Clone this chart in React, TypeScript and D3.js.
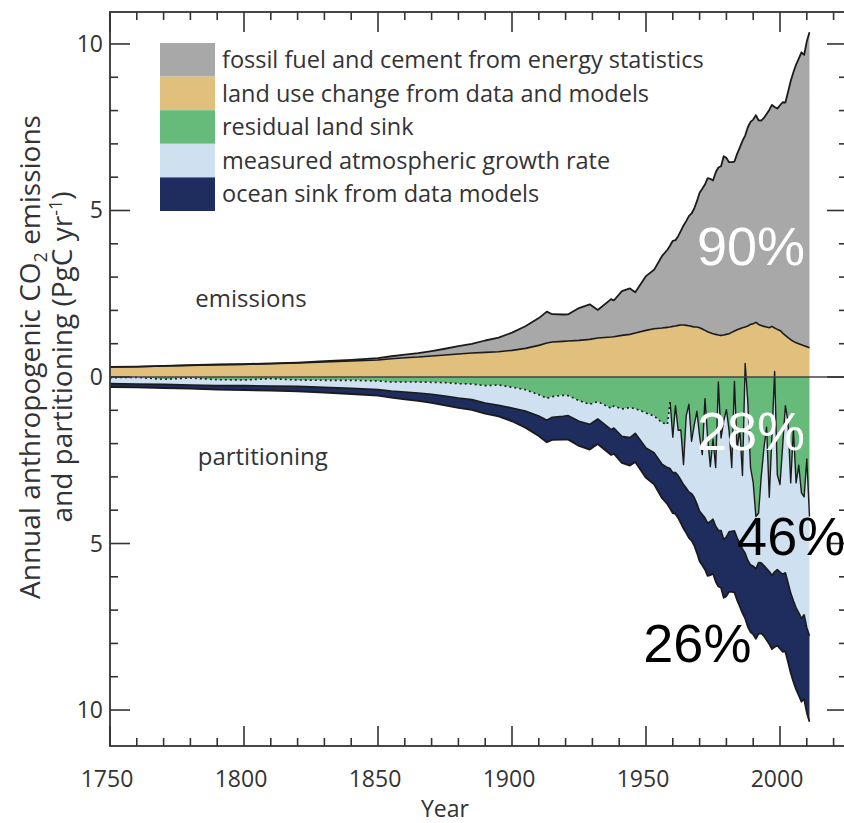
import React from "react";
import * as d3 from "d3";

// sampled years: decadal to 1850, sparse to 1958, then annual 1959-2011
const years = [
  1750, 1760, 1770, 1780, 1790, 1800, 1810, 1820, 1830, 1840, 1850, 1855, 1860,
  1865, 1870, 1875, 1880, 1885, 1890, 1895, 1900, 1905, 1910, 1913, 1915, 1919,
  1921, 1925, 1929, 1932, 1937, 1938, 1941, 1944, 1946, 1950, 1953, 1956, 1958,
  1959, 1960, 1961, 1962, 1963, 1964, 1965, 1966, 1967, 1968, 1969, 1970, 1971,
  1972, 1973, 1974, 1975, 1976, 1977, 1978, 1979, 1980, 1981, 1982, 1983, 1984,
  1985, 1986, 1987, 1988, 1989, 1990, 1991, 1992, 1993, 1994, 1995, 1996, 1997,
  1998, 1999, 2000, 2001, 2002, 2003, 2004, 2005, 2006, 2007, 2008, 2009, 2010,
  2011,
];

// PgC per year
const fossil = [
  0.003, 0.003, 0.003, 0.004, 0.006, 0.008, 0.01, 0.014, 0.024, 0.033, 0.054,
  0.073, 0.091, 0.115, 0.147, 0.188, 0.236, 0.272, 0.356, 0.42, 0.534, 0.663,
  0.819, 0.943, 0.836, 0.807, 0.803, 0.97, 1.053, 0.844, 1.137, 1.088, 1.331,
  1.38, 1.225, 1.63, 1.768, 2.165, 2.33,
  2.45, 2.57, 2.58, 2.68, 2.83, 2.99, 3.13, 3.29, 3.39, 3.56, 3.78, 4.05, 4.21,
  4.38, 4.61, 4.62, 4.6, 4.86, 5.03, 5.08, 5.37, 5.3, 5.15, 5.11, 5.09, 5.28,
  5.44, 5.61, 5.75, 5.97, 6.08, 6.13, 6.22, 6.13, 6.15, 6.26, 6.4, 6.54, 6.65,
  6.64, 6.63, 6.76, 6.93, 6.99, 7.38, 7.77, 8.08, 8.35, 8.56, 8.78, 8.73, 9.17,
  9.47,
];

const landUse = [
  0.3, 0.31, 0.33, 0.35, 0.37, 0.38, 0.4, 0.42, 0.45, 0.48, 0.51, 0.55, 0.58,
  0.6, 0.63, 0.66, 0.69, 0.72, 0.74, 0.76, 0.8, 0.86, 0.95, 1.02, 1.05, 1.07,
  1.08, 1.1, 1.13, 1.17, 1.2, 1.21, 1.25, 1.28, 1.32, 1.4, 1.45, 1.47, 1.49,
  1.5, 1.52, 1.53, 1.55, 1.56, 1.56, 1.55, 1.54, 1.52, 1.5, 1.5, 1.48, 1.44,
  1.4, 1.36, 1.33, 1.3, 1.28, 1.26, 1.25, 1.26, 1.28, 1.3, 1.34, 1.38, 1.42,
  1.45, 1.48, 1.5, 1.53, 1.58, 1.6, 1.64, 1.58, 1.55, 1.52, 1.5, 1.48, 1.52,
  1.47, 1.43, 1.4, 1.32, 1.25, 1.18, 1.12, 1.07, 1.03, 1.0, 0.97, 0.94, 0.91,
  0.88,
];

// sinks, as positive magnitudes (drawn below zero)
const landSink = [
  0.02, 0.01, 0.07, 0.03, 0.08, 0.09, 0.05, 0.09, 0.1, 0.1, 0.12, 0.15, 0.15,
  0.15, 0.16, 0.17, 0.2, 0.21, 0.26, 0.24, 0.31, 0.38, 0.53, 0.64, 0.59, 0.55,
  0.56, 0.71, 0.82, 0.74, 0.94, 0.87, 0.96, 0.92, 0.95, 1.08, 1.17, 1.37, 1.42,
  0.75, 1.81, 0.86, 1.6, 1.59, 2.63, 1.17, 0.82, 1.93, 1.44, 1.03, 1.78, 2.33,
  0.65, 1.82, 2.69, 1.87, 2.72, 0.15, 1.83, 1.32, 0.98, 1.6, 2.72, 0.13, 2.18,
  1.56, 2.96, -0.41, 0.76, 2.71, 3.18, 4.19, 4.09, 2.99, 2.14, 1.51, 3.61, 1.77,
  -0.17, 2.94, 3.23, 2.06, 0.86, 1.35, 3.18, 1.57, 3.18, 2.65, 3.48, 3.6, 2.46,
  4.19,
];

const atmosphere = [
  0.18, 0.2, 0.15, 0.21, 0.18, 0.17, 0.22, 0.19, 0.21, 0.24, 0.26, 0.27, 0.3,
  0.33, 0.36, 0.4, 0.43, 0.47, 0.52, 0.61, 0.62, 0.64, 0.64, 0.66, 0.62, 0.63,
  0.6, 0.62, 0.6, 0.52, 0.64, 0.66, 0.82, 0.9, 0.74, 1.05, 1.1, 1.25, 1.3,
  2.0, 1.06, 2.01, 1.36, 1.5, 0.6, 2.16, 2.63, 1.57, 2.18, 2.78, 2.25, 1.8,
  3.58, 2.57, 1.65, 2.4, 1.76, 4.45, 2.78, 3.56, 3.82, 3.05, 1.91, 4.49, 2.65,
  3.43, 2.2, 5.7, 4.75, 2.93, 2.5, 1.57, 1.48, 2.59, 3.52, 4.24, 2.23, 4.18,
  6.02, 2.84, 2.63, 3.86, 5.02, 4.83, 3.31, 5.15, 3.75, 4.43, 3.77, 3.54, 5.07,
  3.58,
];

const ocean = [
  0.1, 0.1, 0.11, 0.11, 0.12, 0.13, 0.14, 0.15, 0.16, 0.17, 0.18, 0.2, 0.22,
  0.24, 0.26, 0.28, 0.3, 0.31, 0.32, 0.33, 0.4, 0.5, 0.6, 0.66, 0.68, 0.7, 0.72,
  0.74, 0.76, 0.75, 0.76, 0.77, 0.8, 0.84, 0.86, 0.9, 0.95, 1.02, 1.1,
  1.2, 1.22, 1.24, 1.27, 1.3, 1.32, 1.35, 1.38, 1.41, 1.44, 1.47, 1.5, 1.52,
  1.55, 1.58, 1.61, 1.63, 1.66, 1.69, 1.72, 1.75, 1.78, 1.8, 1.82, 1.85, 1.87,
  1.9, 1.93, 1.96, 1.99, 2.02, 2.05, 2.1, 2.14, 2.12, 2.12, 2.15, 2.18, 2.22,
  2.26, 2.28, 2.3, 2.33, 2.36, 2.38, 2.4, 2.43, 2.45, 2.48, 2.5, 2.53, 2.55,
  2.58,
];

const legendLabels = [
  "fossil fuel and cement from energy statistics",
  "land use change from data and models",
  "residual land sink",
  "measured atmospheric growth rate",
  "ocean sink from data models",
];

const xTickLabels = [1750, 1800, 1850, 1900, 1950, 2000];
const yTickLabels = [10, 5, 0, -5, -10];

const shares = [
  { label: "90%", year: 1969, value: 3.36, fill: "#ffffff" },
  { label: "28%", year: 1969, value: -2.19, fill: "#ffffff" },
  { label: "46%", year: 1984, value: -5.35, fill: "#000000" },
  { label: "26%", year: 1949, value: -8.56, fill: "#000000" },
];

const COLORS = {
  fossil: "#a8a8a8",
  landUse: "#e0c07c",
  landSink: "#66bb7b",
  atmosphere: "#cfe0f1",
  ocean: "#1e2c5e",
};
const LEGEND_COLORS = [
  COLORS.fossil,
  COLORS.landUse,
  COLORS.landSink,
  COLORS.atmosphere,
  COLORS.ocean,
];

const W = 844;
const H = 823;
const FONT = "'Open Sans', 'DejaVu Sans', sans-serif";
const INK = "#333";

export default function App() {
  const x = d3.scaleLinear().domain([1750, 2025]).range([110, 847]);
  const y = d3.scaleLinear().domain([-11.08, 10.96]).range([746, 12]);

  const rows = years.map((yr, i) => ({
    year: yr,
    landUse: landUse[i],
    fossil: fossil[i],
    landSink: -landSink[i],
    atmosphere: -atmosphere[i],
    ocean: -ocean[i],
  }));

  const posStack = d3.stack<any>().keys(["landUse", "fossil"])(rows);
  const negStack = d3
    .stack<any>()
    .keys(["landSink", "atmosphere", "ocean"])
    .offset(d3.stackOffsetNone)(rows);

  const area = d3
    .area<any>()
    .x((d) => x(d.data.year))
    .y0((d) => y(d[0]))
    .y1((d) => y(d[1]));
  const edge = d3
    .line<any>()
    .x((d) => x(d.data.year))
    .y((d) => y(d[1]));

  const [luc, ff] = posStack;
  const [ls, atm, oc] = negStack;
  const early = ls.filter((d: any) => d.data.year <= 1959);
  const late = ls.filter((d: any) => d.data.year >= 1959);

  const xTicks = d3.range(1750, 2021, 10);
  const yTicks = d3.range(-10, 11, 1);
  const left = x(1750);
  const right = x(2025);
  const top = y.range()[1];
  const bottom = y.range()[0];

  return (
    <svg
      width={W}
      height={H}
      style={{ position: "absolute", left: 0, top: 0, background: "#fff" }}
      fontFamily={FONT}
    >
      <style>{`body{margin:0}`}</style>

      {/* areas */}
      <path d={area(luc)!} fill={COLORS.landUse} />
      <path d={area(ff)!} fill={COLORS.fossil} />
      <path d={area(ls)!} fill={COLORS.landSink} />
      <path d={area(atm)!} fill={COLORS.atmosphere} />
      <path d={area(oc)!} fill={COLORS.ocean} />

      {/* boundary lines */}
      <g fill="none" stroke="#1b1b1b" strokeLinejoin="round">
        <path d={edge(ff)!} strokeWidth={1.8} />
        <path d={edge(luc)!} strokeWidth={1.6} />
        <path d={edge(early)!} strokeWidth={1.6} strokeDasharray="2 3" />
        <path d={edge(late)!} strokeWidth={1.4} />
        <path d={edge(atm)!} strokeWidth={1.6} />
        <path d={edge(oc)!} strokeWidth={1.8} />
      </g>

      {/* zero line */}
      <line x1={left} x2={right} y1={y(0)} y2={y(0)} stroke="#444" strokeWidth={1.3} />

      {/* frame */}
      <rect
        x={left}
        y={top}
        width={right - left}
        height={bottom - top}
        fill="none"
        stroke={INK}
        strokeWidth={1.8}
      />

      {/* ticks on all four sides, pointing inward */}
      <g stroke={INK} strokeWidth={1.6}>
        {xTicks.map((t) => {
          const len = t % 50 === 0 ? 20 : 8;
          return (
            <g key={t}>
              <line x1={x(t)} x2={x(t)} y1={bottom} y2={bottom - len} />
              <line x1={x(t)} x2={x(t)} y1={top} y2={top + len} />
            </g>
          );
        })}
        {yTicks.map((t) => {
          const len = t % 5 === 0 ? 20 : 8;
          return (
            <g key={t}>
              <line x1={left} x2={left + len} y1={y(t)} y2={y(t)} />
              <line x1={right} x2={right - len} y1={y(t)} y2={y(t)} />
            </g>
          );
        })}
      </g>

      {/* tick labels */}
      <g fill={INK} fontSize={23}>
        {xTickLabels.map((t) => (
          <text key={t} x={x(t) - 3} y={787} textAnchor="middle">
            {t}
          </text>
        ))}
        {yTickLabels.map((t) => (
          <text key={t} x={left - 7} y={y(t) + 8} textAnchor="end">
            {Math.abs(t)}
          </text>
        ))}
        <text x={445} y={817} textAnchor="middle">
          Year
        </text>
      </g>

      {/* y axis title */}
      <g fill={INK} fontSize={28} textAnchor="middle">
        <text transform={`translate(40,${y(0) - 20}) rotate(-90)`}>
          Annual anthropogenic CO
          <tspan dy={7} fontSize={18}>2</tspan>
          <tspan dy={-7}> emissions</tspan>
        </text>
        <text transform={`translate(72,${y(0) - 20}) rotate(-90)`}>
          and partitioning (PgC yr
          <tspan dy={-10} fontSize={18}>-1</tspan>
          <tspan dy={10}>)</tspan>
        </text>
      </g>

      {/* in-plot labels */}
      <g fill={INK} fontSize={24} textAnchor="middle">
        <text x={x(1802.6)} y={y(2.1)}>emissions</text>
        <text x={x(1807)} y={y(-2.64)}>partitioning</text>
      </g>

      {/* legend */}
      <g>
        {legendLabels.map((lab, i) => (
          <g key={lab} transform={`translate(160,${43 + i * 33.6})`}>
            <rect width={55} height={33.6} fill={LEGEND_COLORS[i]} />
            <text x={62} y={25} fontSize={23.5} fill={INK}>
              {lab}
            </text>
          </g>
        ))}
      </g>

      {/* share annotations */}
      <g fontFamily="'Liberation Sans', Arial, sans-serif" fontSize={54}>
        {shares.map((s) => (
          <text key={s.label} x={x(s.year)} y={y(s.value)} fill={s.fill}>
            {s.label}
          </text>
        ))}
      </g>
    </svg>
  );
}
